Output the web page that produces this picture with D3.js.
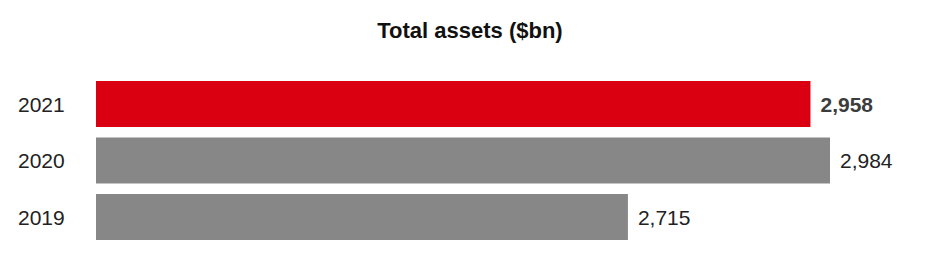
<!DOCTYPE html>
<html>
<head>
<meta charset="utf-8">
<script src="https://cdn.jsdelivr.net/npm/d3@7"></script>
<style>
  body { margin: 0; background: #fff; }
  text { font-family: "Liberation Sans", Arial, sans-serif; }
</style>
</head>
<body>
<svg id="chart" width="938" height="266"></svg>
<script>
// data
var years = ["2021", "2020", "2019"];
var assets = [2958, 2984, 2715];
var labels = ["2,958", "2,984", "2,715"];

var svg = d3.select("#chart");

var x = d3.scaleLinear()
    .domain([2007, d3.max(assets)])
    .range([96, 830]);

var y = d3.scaleBand()
    .domain(years)
    .range([81, 240])
    .paddingInner(0.186)
    .paddingOuter(0);

svg.append("text")
    .attr("x", 470)
    .attr("y", 38)
    .attr("text-anchor", "middle")
    .style("font-weight", "bold")
    .style("font-size", "22px")
    .attr("fill", "#111")
    .text("Total assets ($bn)");

var rows = svg.selectAll("g.row")
    .data(years)
    .enter().append("g")
    .attr("class", "row");

rows.append("rect")
    .attr("x", x.range()[0])
    .attr("y", function (d) { return y(d); })
    .attr("width", function (d, i) { return x(assets[i]) - x.range()[0]; })
    .attr("height", y.bandwidth())
    .attr("fill", function (d, i) { return i === 0 ? "#db0011" : "#878787"; });

// year labels
rows.append("text")
    .attr("x", 18)
    .attr("y", function (d) { return y(d) + y.bandwidth() / 2; })
    .attr("dy", "0.36em")
    .style("font-size", "21px")
    .attr("fill", "#222")
    .text(function (d) { return d; });

// value labels
rows.append("text")
    .attr("x", function (d, i) { return x(assets[i]) + 10; })
    .attr("y", function (d) { return y(d) + y.bandwidth() / 2; })
    .attr("dy", "0.36em")
    .style("font-size", "21px")
    .style("font-weight", function (d, i) { return i === 0 ? "bold" : "normal"; })
    .attr("fill", function (d, i) { return i === 0 ? "#3c3c3c" : "#222"; })
    .text(function (d, i) { return labels[i]; });
</script>
</body>
</html>
